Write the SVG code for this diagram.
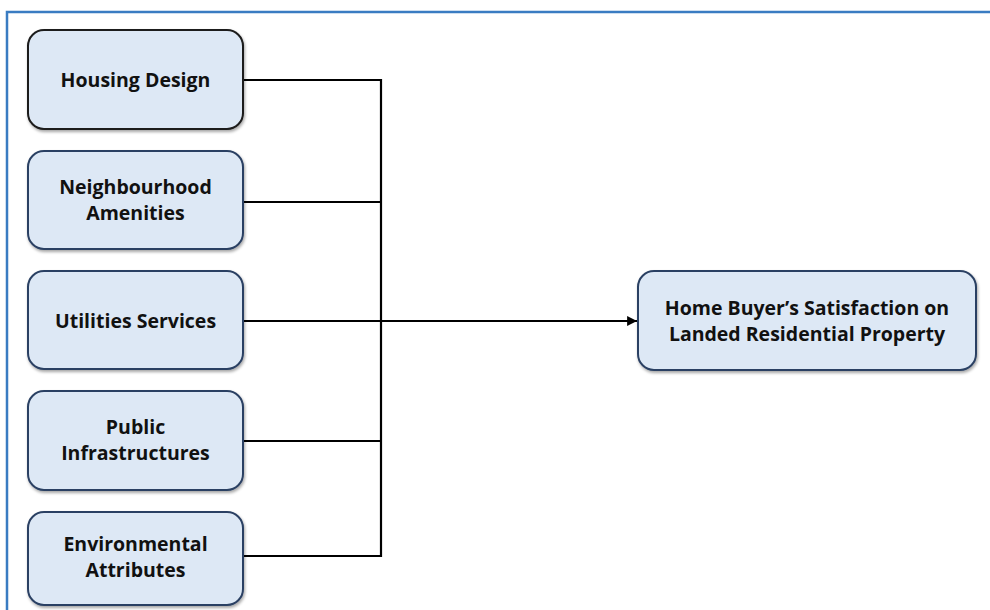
<svg xmlns="http://www.w3.org/2000/svg" width="990" height="610" viewBox="0 0 990 610">
<style>
.box{fill:#dde8f5;stroke:#2b4163;stroke-width:2;filter:url(#sh)}
.t{font-family:"Open Sans","Liberation Sans",sans-serif;font-weight:700;font-size:19.5px;fill:#111;text-anchor:middle}
.c{fill:none;stroke:#000;stroke-width:2.2}
</style>
<defs>
<filter id="sh" x="-10%" y="-10%" width="125%" height="130%">
<feDropShadow dx="1" dy="2" stdDeviation="1.5" flood-color="#000" flood-opacity="0.35"/>
</filter>
<marker id="ar" viewBox="0 0 10 10" refX="10" refY="5" markerWidth="4.5" markerHeight="4.5" orient="auto" markerUnits="strokeWidth">
<path d="M0,0 L10,5 L0,10 z" fill="#000"/>
</marker>
</defs>
<rect width="990" height="610" fill="#fff"/>
<path d="M7,610 V12 H990" fill="none" stroke="#3a7cc2" stroke-width="2.5"/>
<g id="connectors">
<path class="c" d="M243,80 H381 V556 H243"/>
<path class="c" d="M243,202 H381"/>
<path class="c" d="M243,441 H381"/>
<path class="c" d="M243,321 H637" marker-end="url(#ar)"/>
</g>
<g id="housing">
<rect class="box" x="28" y="30" width="215" height="99" rx="16" style="stroke:#1a1a1a"/>
<text class="t" x="135.5" y="87">Housing Design</text>
</g>
<g id="neighbourhood">
<rect class="box" x="28" y="151" width="215" height="98" rx="16"/>
<text class="t" x="135.5" y="194">Neighbourhood</text>
<text class="t" x="135.5" y="220">Amenities</text>
</g>
<g id="utilities">
<rect class="box" x="28" y="271" width="215" height="98" rx="16"/>
<text class="t" x="135.5" y="328">Utilities Services</text>
</g>
<g id="public">
<rect class="box" x="28" y="391" width="215" height="99" rx="16"/>
<text class="t" x="135.5" y="434">Public</text>
<text class="t" x="135.5" y="460">Infrastructures</text>
</g>
<g id="environmental">
<rect class="box" x="28" y="512" width="215" height="93" rx="16"/>
<text class="t" x="135.5" y="551">Environmental</text>
<text class="t" x="135.5" y="577">Attributes</text>
</g>
<g id="satisfaction">
<rect class="box" x="638" y="271" width="338" height="99" rx="16"/>
<text class="t" x="807" y="315">Home Buyer’s Satisfaction on</text>
<text class="t" x="807" y="341">Landed Residential Property</text>
</g>
</svg>
